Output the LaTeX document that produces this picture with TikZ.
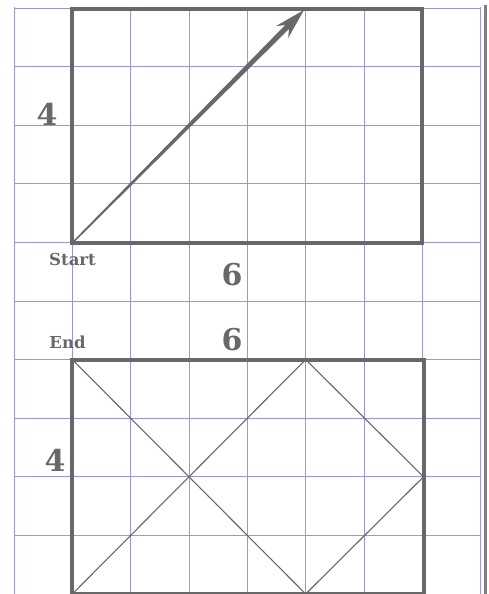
\documentclass[tikz,border=0pt]{standalone}
\usepackage{fontspec}
\setmainfont{DejaVu Serif}
\usetikzlibrary{calc}
\definecolor{gridc}{RGB}{150,150,232}
\definecolor{inkc}{RGB}{104,104,104}
\begin{document}
\begin{tikzpicture}[x=1pt,y=-1pt,
  gridline/.style={draw=gridc,line width=0.9pt},
  boxline/.style={draw=inkc,line width=4pt},
  diag/.style={draw=inkc,line width=1.1pt},
  bignum/.style={text=inkc,font=\fontsize{30}{30}\selectfont\bfseries,inner sep=0pt},
  smalllab/.style={text=inkc,font=\fontsize{16.5}{16.5}\selectfont\bfseries,inner sep=0pt}]
\fill[white] (0,0) rectangle (489,594);
\useasboundingbox (0,0) rectangle (489,594);
% grid
\foreach \i in {0,...,8} {\draw[gridline] (14+58.33*\i,7.5) -- (14+58.33*\i,594);}
\foreach \j in {0,...,10} {\draw[gridline] (14,8+58.6*\j) -- (480.7,8+58.6*\j);}
% right border line
\draw[draw=inkc!85,line width=3pt] (485,5) -- (485,594);
% upper rectangle
\coordinate (ua) at (72.3,9.5);
\coordinate (ub) at (422.3,243);
\draw[boxline] (ua) rectangle (ub);
% arrow
\coordinate (s) at (72.3,243);
\coordinate (t) at (304,10);
\coordinate (hb) at ($(t)!31pt!(s)$);
\coordinate (nk) at ($(t)!24pt!(s)$);
\fill[inkc] ($(s)!0.8pt!90:(t)$) -- ($(nk)!2.7pt!90:(t)$) -- ($(hb)!8.5pt!90:(t)$) -- (t)
  -- ($(hb)!8.5pt!-90:(t)$) -- ($(nk)!2.7pt!-90:(t)$) -- ($(s)!0.8pt!-90:(t)$) -- cycle;
% lower rectangle
\coordinate (la) at (72.3,359.6);
\coordinate (lb) at (423.5,594);
\coordinate (lt) at (305.7,359.6);
\coordinate (lbm) at (305.7,594);
\coordinate (lr) at (423.5,476.8);
\coordinate (lbl) at (72.3,594);
\draw[diag] (la) -- (lbm);
\draw[diag] (lbl) -- (lt);
\draw[diag] (lt) -- (lr) -- (lbm);
\draw[boxline] (la) rectangle (lb);
% labels
\node[bignum] (u4) at (47,114) {4};
\node[bignum] (u6) at (232,274.5) {6};
\node[smalllab] (st) at (72.5,259.5) {Start};
\node[smalllab] (en) at (67.5,342) {End};
\node[bignum] (l6) at (232,340) {6};
\node[bignum] (l4) at (55,460.5) {4};
\end{tikzpicture}
\end{document}
